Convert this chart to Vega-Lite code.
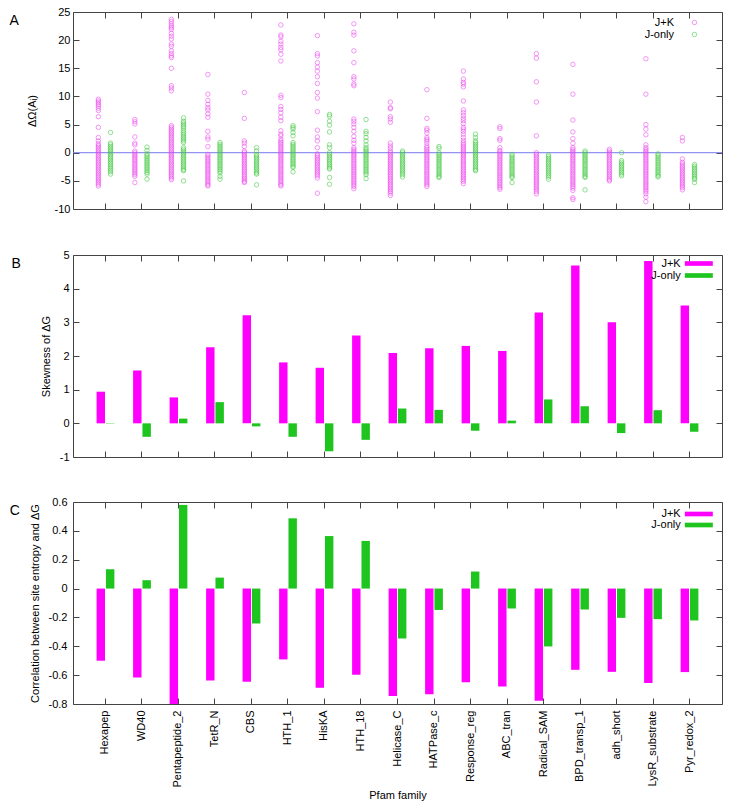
{
"$schema": "https://vega.github.io/schema/vega-lite/v6.json",
"padding": {"left": 8, "top": 5, "right": 5, "bottom": 2},
"config": {
 "font": "Liberation Sans",
 "view": {"stroke": "#444", "strokeWidth": 1},
 "axis": {"grid": false, "domain": false, "tickSize": -6, "tickColor": "#444", "tickWidth": 1, "labelFontSize": 11, "labelColor": "#000", "titleFontSize": 11, "titleFontWeight": "normal", "titleColor": "#000"},
 "legend": {"labelFontSize": 11, "labelColor": "#000", "padding": 0, "rowPadding": 0, "labelAlign": "right"},
 "title": {"fontSize": 14, "fontWeight": "normal", "orient": "left", "angle": 0, "anchor": "end", "align": "right", "baseline": "top", "frame": "group", "dy": 2, "color": "#000"}
},
"datasets": {
"bars": [
{"f":"Hexapep","s":"J+K","skew":0.94,"corr":-0.50},{"f":"Hexapep","s":"J-only","skew":0.01,"corr":0.134},
{"f":"WD40","s":"J+K","skew":1.57,"corr":-0.616},{"f":"WD40","s":"J-only","skew":-0.40,"corr":0.058},
{"f":"Pentapeptide_2","s":"J+K","skew":0.77,"corr":-0.80},{"f":"Pentapeptide_2","s":"J-only","skew":0.14,"corr":0.58},
{"f":"TetR_N","s":"J+K","skew":2.26,"corr":-0.637},{"f":"TetR_N","s":"J-only","skew":0.63,"corr":0.076},
{"f":"CBS","s":"J+K","skew":3.21,"corr":-0.646},{"f":"CBS","s":"J-only","skew":-0.09,"corr":-0.242},
{"f":"HTH_1","s":"J+K","skew":1.81,"corr":-0.491},{"f":"HTH_1","s":"J-only","skew":-0.40,"corr":0.487},
{"f":"HisKA","s":"J+K","skew":1.65,"corr":-0.687},{"f":"HisKA","s":"J-only","skew":-0.83,"corr":0.364},
{"f":"HTH_18","s":"J+K","skew":2.61,"corr":-0.597},{"f":"HTH_18","s":"J-only","skew":-0.49,"corr":0.33},
{"f":"Helicase_C","s":"J+K","skew":2.09,"corr":-0.745},{"f":"Helicase_C","s":"J-only","skew":0.44,"corr":-0.346},
{"f":"HATPase_c","s":"J+K","skew":2.23,"corr":-0.733},{"f":"HATPase_c","s":"J-only","skew":0.40,"corr":-0.148},
{"f":"Response_reg","s":"J+K","skew":2.30,"corr":-0.65},{"f":"Response_reg","s":"J-only","skew":-0.22,"corr":0.118},
{"f":"ABC_tran","s":"J+K","skew":2.15,"corr":-0.678},{"f":"ABC_tran","s":"J-only","skew":0.08,"corr":-0.138},
{"f":"Radical_SAM","s":"J+K","skew":3.29,"corr":-0.777},{"f":"Radical_SAM","s":"J-only","skew":0.71,"corr":-0.401},
{"f":"BPD_transp_1","s":"J+K","skew":4.69,"corr":-0.563},{"f":"BPD_transp_1","s":"J-only","skew":0.51,"corr":-0.145},
{"f":"adh_short","s":"J+K","skew":3.00,"corr":-0.577},{"f":"adh_short","s":"J-only","skew":-0.29,"corr":-0.203},
{"f":"LysR_substrate","s":"J+K","skew":4.82,"corr":-0.655},{"f":"LysR_substrate","s":"J-only","skew":0.39,"corr":-0.212},
{"f":"Pyr_redox_2","s":"J+K","skew":3.50,"corr":-0.579},{"f":"Pyr_redox_2","s":"J-only","skew":-0.25,"corr":-0.221}
],
"pts": [
{"f":"Hexapep","s":"J+K","v":9.5},{"f":"Hexapep","s":"J+K","v":9.2},{"f":"Hexapep","s":"J+K","v":8.9},{"f":"Hexapep","s":"J+K","v":8.6},{"f":"Hexapep","s":"J+K","v":8.3},{"f":"Hexapep","s":"J+K","v":7.9},{"f":"Hexapep","s":"J+K","v":7.5},{"f":"Hexapep","s":"J+K","v":6.4},{"f":"Hexapep","s":"J+K","v":4.5},{"f":"Hexapep","s":"J+K","v":2.7},{"f":"Hexapep","s":"J+K","v":2.1},{"f":"Hexapep","s":"J+K","v":1.6},{"f":"Hexapep","s":"J+K","v":1.3},{"f":"Hexapep","s":"J+K","v":1.0},{"f":"Hexapep","s":"J+K","v":0.7},{"f":"Hexapep","s":"J+K","v":0.4},{"f":"Hexapep","s":"J+K","v":0.1},{"f":"Hexapep","s":"J+K","v":-0.2},{"f":"Hexapep","s":"J+K","v":-0.5},{"f":"Hexapep","s":"J+K","v":-0.8},{"f":"Hexapep","s":"J+K","v":-1.1},{"f":"Hexapep","s":"J+K","v":-1.4},{"f":"Hexapep","s":"J+K","v":-1.7},{"f":"Hexapep","s":"J+K","v":-2.0},{"f":"Hexapep","s":"J+K","v":-2.3},{"f":"Hexapep","s":"J+K","v":-2.6},{"f":"Hexapep","s":"J+K","v":-2.9},{"f":"Hexapep","s":"J+K","v":-3.2},{"f":"Hexapep","s":"J+K","v":-3.5},{"f":"Hexapep","s":"J+K","v":-3.8},{"f":"Hexapep","s":"J+K","v":-4.1},{"f":"Hexapep","s":"J+K","v":-4.4},{"f":"Hexapep","s":"J+K","v":-4.7},{"f":"Hexapep","s":"J+K","v":-5.0},{"f":"Hexapep","s":"J+K","v":-5.3},{"f":"Hexapep","s":"J+K","v":-5.6},{"f":"Hexapep","s":"J+K","v":-5.9},
{"f":"Hexapep","s":"J-only","v":3.6},{"f":"Hexapep","s":"J-only","v":1.7},{"f":"Hexapep","s":"J-only","v":1.4},{"f":"Hexapep","s":"J-only","v":1.1},{"f":"Hexapep","s":"J-only","v":0.8},{"f":"Hexapep","s":"J-only","v":0.5},{"f":"Hexapep","s":"J-only","v":0.2},{"f":"Hexapep","s":"J-only","v":-0.1},{"f":"Hexapep","s":"J-only","v":-0.4},{"f":"Hexapep","s":"J-only","v":-0.7},{"f":"Hexapep","s":"J-only","v":-1.0},{"f":"Hexapep","s":"J-only","v":-1.3},{"f":"Hexapep","s":"J-only","v":-1.6},{"f":"Hexapep","s":"J-only","v":-1.9},{"f":"Hexapep","s":"J-only","v":-2.2},{"f":"Hexapep","s":"J-only","v":-2.5},{"f":"Hexapep","s":"J-only","v":-2.8},{"f":"Hexapep","s":"J-only","v":-3.1},{"f":"Hexapep","s":"J-only","v":-3.4},{"f":"Hexapep","s":"J-only","v":-3.8},
{"f":"WD40","s":"J+K","v":5.9},{"f":"WD40","s":"J+K","v":5.5},{"f":"WD40","s":"J+K","v":5.1},{"f":"WD40","s":"J+K","v":2.8},{"f":"WD40","s":"J+K","v":1.7},{"f":"WD40","s":"J+K","v":1.4},{"f":"WD40","s":"J+K","v":0.3},{"f":"WD40","s":"J+K","v":0.0},{"f":"WD40","s":"J+K","v":-0.3},{"f":"WD40","s":"J+K","v":-0.6},{"f":"WD40","s":"J+K","v":-0.9},{"f":"WD40","s":"J+K","v":-1.2},{"f":"WD40","s":"J+K","v":-1.5},{"f":"WD40","s":"J+K","v":-1.8},{"f":"WD40","s":"J+K","v":-2.1},{"f":"WD40","s":"J+K","v":-2.4},{"f":"WD40","s":"J+K","v":-2.7},{"f":"WD40","s":"J+K","v":-3.0},{"f":"WD40","s":"J+K","v":-3.3},{"f":"WD40","s":"J+K","v":-3.6},{"f":"WD40","s":"J+K","v":-3.9},{"f":"WD40","s":"J+K","v":-4.2},{"f":"WD40","s":"J+K","v":-5.3},
{"f":"WD40","s":"J-only","v":1.0},{"f":"WD40","s":"J-only","v":0.4},{"f":"WD40","s":"J-only","v":-0.2},{"f":"WD40","s":"J-only","v":-0.5},{"f":"WD40","s":"J-only","v":-0.8},{"f":"WD40","s":"J-only","v":-1.1},{"f":"WD40","s":"J-only","v":-1.4},{"f":"WD40","s":"J-only","v":-1.7},{"f":"WD40","s":"J-only","v":-2.0},{"f":"WD40","s":"J-only","v":-2.3},{"f":"WD40","s":"J-only","v":-2.6},{"f":"WD40","s":"J-only","v":-2.9},{"f":"WD40","s":"J-only","v":-3.2},{"f":"WD40","s":"J-only","v":-3.5},{"f":"WD40","s":"J-only","v":-3.8},{"f":"WD40","s":"J-only","v":-4.7},
{"f":"Pentapeptide_2","s":"J+K","v":23.7},{"f":"Pentapeptide_2","s":"J+K","v":23.3},{"f":"Pentapeptide_2","s":"J+K","v":22.9},{"f":"Pentapeptide_2","s":"J+K","v":22.5},{"f":"Pentapeptide_2","s":"J+K","v":22.2},{"f":"Pentapeptide_2","s":"J+K","v":21.9},{"f":"Pentapeptide_2","s":"J+K","v":21.2},{"f":"Pentapeptide_2","s":"J+K","v":20.7},{"f":"Pentapeptide_2","s":"J+K","v":20.2},{"f":"Pentapeptide_2","s":"J+K","v":19.3},{"f":"Pentapeptide_2","s":"J+K","v":18.9},{"f":"Pentapeptide_2","s":"J+K","v":18.1},{"f":"Pentapeptide_2","s":"J+K","v":17.6},{"f":"Pentapeptide_2","s":"J+K","v":17.2},{"f":"Pentapeptide_2","s":"J+K","v":16.9},{"f":"Pentapeptide_2","s":"J+K","v":15.0},{"f":"Pentapeptide_2","s":"J+K","v":11.9},{"f":"Pentapeptide_2","s":"J+K","v":11.5},{"f":"Pentapeptide_2","s":"J+K","v":11.0},{"f":"Pentapeptide_2","s":"J+K","v":4.8},{"f":"Pentapeptide_2","s":"J+K","v":4.5},{"f":"Pentapeptide_2","s":"J+K","v":4.2},{"f":"Pentapeptide_2","s":"J+K","v":3.9},{"f":"Pentapeptide_2","s":"J+K","v":3.6},{"f":"Pentapeptide_2","s":"J+K","v":3.3},{"f":"Pentapeptide_2","s":"J+K","v":3.0},{"f":"Pentapeptide_2","s":"J+K","v":2.7},{"f":"Pentapeptide_2","s":"J+K","v":2.4},{"f":"Pentapeptide_2","s":"J+K","v":2.1},{"f":"Pentapeptide_2","s":"J+K","v":1.8},{"f":"Pentapeptide_2","s":"J+K","v":1.5},{"f":"Pentapeptide_2","s":"J+K","v":1.2},{"f":"Pentapeptide_2","s":"J+K","v":0.9},{"f":"Pentapeptide_2","s":"J+K","v":0.6},{"f":"Pentapeptide_2","s":"J+K","v":0.3},{"f":"Pentapeptide_2","s":"J+K","v":0.0},{"f":"Pentapeptide_2","s":"J+K","v":-0.3},{"f":"Pentapeptide_2","s":"J+K","v":-0.6},{"f":"Pentapeptide_2","s":"J+K","v":-0.9},{"f":"Pentapeptide_2","s":"J+K","v":-1.2},{"f":"Pentapeptide_2","s":"J+K","v":-1.5},{"f":"Pentapeptide_2","s":"J+K","v":-1.8},{"f":"Pentapeptide_2","s":"J+K","v":-2.1},{"f":"Pentapeptide_2","s":"J+K","v":-2.4},{"f":"Pentapeptide_2","s":"J+K","v":-2.7},{"f":"Pentapeptide_2","s":"J+K","v":-3.0},{"f":"Pentapeptide_2","s":"J+K","v":-3.3},{"f":"Pentapeptide_2","s":"J+K","v":-3.6},{"f":"Pentapeptide_2","s":"J+K","v":-3.9},{"f":"Pentapeptide_2","s":"J+K","v":-4.2},{"f":"Pentapeptide_2","s":"J+K","v":-4.5},{"f":"Pentapeptide_2","s":"J+K","v":-4.8},
{"f":"Pentapeptide_2","s":"J-only","v":6.2},{"f":"Pentapeptide_2","s":"J-only","v":5.6},{"f":"Pentapeptide_2","s":"J-only","v":5.3},{"f":"Pentapeptide_2","s":"J-only","v":5.0},{"f":"Pentapeptide_2","s":"J-only","v":4.7},{"f":"Pentapeptide_2","s":"J-only","v":4.4},{"f":"Pentapeptide_2","s":"J-only","v":4.0},{"f":"Pentapeptide_2","s":"J-only","v":3.6},{"f":"Pentapeptide_2","s":"J-only","v":3.3},{"f":"Pentapeptide_2","s":"J-only","v":3.0},{"f":"Pentapeptide_2","s":"J-only","v":2.7},{"f":"Pentapeptide_2","s":"J-only","v":2.4},{"f":"Pentapeptide_2","s":"J-only","v":2.1},{"f":"Pentapeptide_2","s":"J-only","v":1.8},{"f":"Pentapeptide_2","s":"J-only","v":0.9},{"f":"Pentapeptide_2","s":"J-only","v":0.6},{"f":"Pentapeptide_2","s":"J-only","v":0.3},{"f":"Pentapeptide_2","s":"J-only","v":0.0},{"f":"Pentapeptide_2","s":"J-only","v":-0.3},{"f":"Pentapeptide_2","s":"J-only","v":-0.6},{"f":"Pentapeptide_2","s":"J-only","v":-0.9},{"f":"Pentapeptide_2","s":"J-only","v":-1.2},{"f":"Pentapeptide_2","s":"J-only","v":-1.5},{"f":"Pentapeptide_2","s":"J-only","v":-1.8},{"f":"Pentapeptide_2","s":"J-only","v":-2.1},{"f":"Pentapeptide_2","s":"J-only","v":-2.4},{"f":"Pentapeptide_2","s":"J-only","v":-2.7},{"f":"Pentapeptide_2","s":"J-only","v":-3.0},{"f":"Pentapeptide_2","s":"J-only","v":-3.2},{"f":"Pentapeptide_2","s":"J-only","v":-5.0},
{"f":"TetR_N","s":"J+K","v":13.9},{"f":"TetR_N","s":"J+K","v":10.4},{"f":"TetR_N","s":"J+K","v":9.3},{"f":"TetR_N","s":"J+K","v":8.6},{"f":"TetR_N","s":"J+K","v":8.0},{"f":"TetR_N","s":"J+K","v":7.6},{"f":"TetR_N","s":"J+K","v":6.9},{"f":"TetR_N","s":"J+K","v":6.3},{"f":"TetR_N","s":"J+K","v":3.8},{"f":"TetR_N","s":"J+K","v":2.8},{"f":"TetR_N","s":"J+K","v":2.4},{"f":"TetR_N","s":"J+K","v":1.1},{"f":"TetR_N","s":"J+K","v":-0.3},{"f":"TetR_N","s":"J+K","v":-0.6},{"f":"TetR_N","s":"J+K","v":-0.9},{"f":"TetR_N","s":"J+K","v":-1.2},{"f":"TetR_N","s":"J+K","v":-1.5},{"f":"TetR_N","s":"J+K","v":-1.8},{"f":"TetR_N","s":"J+K","v":-2.1},{"f":"TetR_N","s":"J+K","v":-2.4},{"f":"TetR_N","s":"J+K","v":-2.7},{"f":"TetR_N","s":"J+K","v":-3.0},{"f":"TetR_N","s":"J+K","v":-3.3},{"f":"TetR_N","s":"J+K","v":-3.6},{"f":"TetR_N","s":"J+K","v":-3.9},{"f":"TetR_N","s":"J+K","v":-4.2},{"f":"TetR_N","s":"J+K","v":-4.5},{"f":"TetR_N","s":"J+K","v":-4.8},{"f":"TetR_N","s":"J+K","v":-5.1},{"f":"TetR_N","s":"J+K","v":-5.4},{"f":"TetR_N","s":"J+K","v":-5.7},{"f":"TetR_N","s":"J+K","v":-5.9},
{"f":"TetR_N","s":"J-only","v":1.8},{"f":"TetR_N","s":"J-only","v":1.5},{"f":"TetR_N","s":"J-only","v":1.2},{"f":"TetR_N","s":"J-only","v":0.9},{"f":"TetR_N","s":"J-only","v":0.6},{"f":"TetR_N","s":"J-only","v":0.3},{"f":"TetR_N","s":"J-only","v":0.0},{"f":"TetR_N","s":"J-only","v":-0.3},{"f":"TetR_N","s":"J-only","v":-0.6},{"f":"TetR_N","s":"J-only","v":-0.9},{"f":"TetR_N","s":"J-only","v":-1.2},{"f":"TetR_N","s":"J-only","v":-1.5},{"f":"TetR_N","s":"J-only","v":-1.8},{"f":"TetR_N","s":"J-only","v":-2.1},{"f":"TetR_N","s":"J-only","v":-2.4},{"f":"TetR_N","s":"J-only","v":-2.7},{"f":"TetR_N","s":"J-only","v":-3.0},{"f":"TetR_N","s":"J-only","v":-3.3},{"f":"TetR_N","s":"J-only","v":-3.6},{"f":"TetR_N","s":"J-only","v":-4.2},{"f":"TetR_N","s":"J-only","v":-4.7},
{"f":"CBS","s":"J+K","v":10.7},{"f":"CBS","s":"J+K","v":6.1},{"f":"CBS","s":"J+K","v":2.1},{"f":"CBS","s":"J+K","v":1.7},{"f":"CBS","s":"J+K","v":1.1},{"f":"CBS","s":"J+K","v":0.3},{"f":"CBS","s":"J+K","v":0.0},{"f":"CBS","s":"J+K","v":-0.3},{"f":"CBS","s":"J+K","v":-0.6},{"f":"CBS","s":"J+K","v":-0.9},{"f":"CBS","s":"J+K","v":-1.2},{"f":"CBS","s":"J+K","v":-1.5},{"f":"CBS","s":"J+K","v":-1.8},{"f":"CBS","s":"J+K","v":-2.1},{"f":"CBS","s":"J+K","v":-2.4},{"f":"CBS","s":"J+K","v":-2.7},{"f":"CBS","s":"J+K","v":-3.0},{"f":"CBS","s":"J+K","v":-3.3},{"f":"CBS","s":"J+K","v":-3.6},{"f":"CBS","s":"J+K","v":-3.9},{"f":"CBS","s":"J+K","v":-4.2},{"f":"CBS","s":"J+K","v":-4.5},{"f":"CBS","s":"J+K","v":-4.8},{"f":"CBS","s":"J+K","v":-5.1},{"f":"CBS","s":"J+K","v":-5.3},
{"f":"CBS","s":"J-only","v":0.9},{"f":"CBS","s":"J-only","v":0.3},{"f":"CBS","s":"J-only","v":-0.3},{"f":"CBS","s":"J-only","v":-0.6},{"f":"CBS","s":"J-only","v":-0.9},{"f":"CBS","s":"J-only","v":-1.2},{"f":"CBS","s":"J-only","v":-1.5},{"f":"CBS","s":"J-only","v":-1.8},{"f":"CBS","s":"J-only","v":-2.1},{"f":"CBS","s":"J-only","v":-2.4},{"f":"CBS","s":"J-only","v":-2.7},{"f":"CBS","s":"J-only","v":-3.0},{"f":"CBS","s":"J-only","v":-3.3},{"f":"CBS","s":"J-only","v":-3.6},{"f":"CBS","s":"J-only","v":-3.8},{"f":"CBS","s":"J-only","v":-5.7},
{"f":"HTH_1","s":"J+K","v":22.7},{"f":"HTH_1","s":"J+K","v":20.9},{"f":"HTH_1","s":"J+K","v":20.6},{"f":"HTH_1","s":"J+K","v":19.8},{"f":"HTH_1","s":"J+K","v":19.3},{"f":"HTH_1","s":"J+K","v":18.7},{"f":"HTH_1","s":"J+K","v":18.3},{"f":"HTH_1","s":"J+K","v":17.5},{"f":"HTH_1","s":"J+K","v":16.3},{"f":"HTH_1","s":"J+K","v":10.2},{"f":"HTH_1","s":"J+K","v":9.8},{"f":"HTH_1","s":"J+K","v":8.2},{"f":"HTH_1","s":"J+K","v":7.7},{"f":"HTH_1","s":"J+K","v":7.1},{"f":"HTH_1","s":"J+K","v":6.3},{"f":"HTH_1","s":"J+K","v":5.7},{"f":"HTH_1","s":"J+K","v":3.9},{"f":"HTH_1","s":"J+K","v":3.3},{"f":"HTH_1","s":"J+K","v":3.0},{"f":"HTH_1","s":"J+K","v":2.4},{"f":"HTH_1","s":"J+K","v":2.1},{"f":"HTH_1","s":"J+K","v":1.8},{"f":"HTH_1","s":"J+K","v":1.5},{"f":"HTH_1","s":"J+K","v":1.2},{"f":"HTH_1","s":"J+K","v":0.9},{"f":"HTH_1","s":"J+K","v":0.6},{"f":"HTH_1","s":"J+K","v":0.3},{"f":"HTH_1","s":"J+K","v":0.0},{"f":"HTH_1","s":"J+K","v":-0.3},{"f":"HTH_1","s":"J+K","v":-0.6},{"f":"HTH_1","s":"J+K","v":-0.9},{"f":"HTH_1","s":"J+K","v":-1.2},{"f":"HTH_1","s":"J+K","v":-1.5},{"f":"HTH_1","s":"J+K","v":-1.8},{"f":"HTH_1","s":"J+K","v":-2.1},{"f":"HTH_1","s":"J+K","v":-2.4},{"f":"HTH_1","s":"J+K","v":-2.7},{"f":"HTH_1","s":"J+K","v":-3.0},{"f":"HTH_1","s":"J+K","v":-3.3},{"f":"HTH_1","s":"J+K","v":-3.6},{"f":"HTH_1","s":"J+K","v":-3.9},{"f":"HTH_1","s":"J+K","v":-4.2},{"f":"HTH_1","s":"J+K","v":-4.5},{"f":"HTH_1","s":"J+K","v":-4.8},{"f":"HTH_1","s":"J+K","v":-5.1},{"f":"HTH_1","s":"J+K","v":-5.4},{"f":"HTH_1","s":"J+K","v":-5.7},{"f":"HTH_1","s":"J+K","v":-5.9},
{"f":"HTH_1","s":"J-only","v":4.8},{"f":"HTH_1","s":"J-only","v":4.5},{"f":"HTH_1","s":"J-only","v":4.2},{"f":"HTH_1","s":"J-only","v":3.6},{"f":"HTH_1","s":"J-only","v":3.0},{"f":"HTH_1","s":"J-only","v":1.8},{"f":"HTH_1","s":"J-only","v":1.5},{"f":"HTH_1","s":"J-only","v":1.2},{"f":"HTH_1","s":"J-only","v":0.9},{"f":"HTH_1","s":"J-only","v":0.6},{"f":"HTH_1","s":"J-only","v":0.3},{"f":"HTH_1","s":"J-only","v":0.0},{"f":"HTH_1","s":"J-only","v":-0.3},{"f":"HTH_1","s":"J-only","v":-0.6},{"f":"HTH_1","s":"J-only","v":-0.9},{"f":"HTH_1","s":"J-only","v":-1.2},{"f":"HTH_1","s":"J-only","v":-1.5},{"f":"HTH_1","s":"J-only","v":-1.8},{"f":"HTH_1","s":"J-only","v":-2.1},{"f":"HTH_1","s":"J-only","v":-2.4},{"f":"HTH_1","s":"J-only","v":-2.6},{"f":"HTH_1","s":"J-only","v":-3.4},
{"f":"HisKA","s":"J+K","v":20.8},{"f":"HisKA","s":"J+K","v":17.6},{"f":"HisKA","s":"J+K","v":17.2},{"f":"HisKA","s":"J+K","v":16.0},{"f":"HisKA","s":"J+K","v":15.2},{"f":"HisKA","s":"J+K","v":14.5},{"f":"HisKA","s":"J+K","v":13.5},{"f":"HisKA","s":"J+K","v":12.3},{"f":"HisKA","s":"J+K","v":10.7},{"f":"HisKA","s":"J+K","v":9.7},{"f":"HisKA","s":"J+K","v":7.3},{"f":"HisKA","s":"J+K","v":4.0},{"f":"HisKA","s":"J+K","v":2.8},{"f":"HisKA","s":"J+K","v":2.1},{"f":"HisKA","s":"J+K","v":0.9},{"f":"HisKA","s":"J+K","v":-0.2},{"f":"HisKA","s":"J+K","v":-0.5},{"f":"HisKA","s":"J+K","v":-0.8},{"f":"HisKA","s":"J+K","v":-1.1},{"f":"HisKA","s":"J+K","v":-1.4},{"f":"HisKA","s":"J+K","v":-1.7},{"f":"HisKA","s":"J+K","v":-2.0},{"f":"HisKA","s":"J+K","v":-2.3},{"f":"HisKA","s":"J+K","v":-2.6},{"f":"HisKA","s":"J+K","v":-2.9},{"f":"HisKA","s":"J+K","v":-3.2},{"f":"HisKA","s":"J+K","v":-3.5},{"f":"HisKA","s":"J+K","v":-3.8},{"f":"HisKA","s":"J+K","v":-4.1},{"f":"HisKA","s":"J+K","v":-4.5},{"f":"HisKA","s":"J+K","v":-7.2},
{"f":"HisKA","s":"J-only","v":6.8},{"f":"HisKA","s":"J-only","v":6.5},{"f":"HisKA","s":"J-only","v":5.6},{"f":"HisKA","s":"J-only","v":4.9},{"f":"HisKA","s":"J-only","v":3.7},{"f":"HisKA","s":"J-only","v":1.4},{"f":"HisKA","s":"J-only","v":0.9},{"f":"HisKA","s":"J-only","v":0.0},{"f":"HisKA","s":"J-only","v":-0.3},{"f":"HisKA","s":"J-only","v":-0.6},{"f":"HisKA","s":"J-only","v":-0.9},{"f":"HisKA","s":"J-only","v":-1.2},{"f":"HisKA","s":"J-only","v":-1.5},{"f":"HisKA","s":"J-only","v":-1.8},{"f":"HisKA","s":"J-only","v":-2.1},{"f":"HisKA","s":"J-only","v":-2.4},{"f":"HisKA","s":"J-only","v":-2.7},{"f":"HisKA","s":"J-only","v":-2.9},{"f":"HisKA","s":"J-only","v":-4.4},{"f":"HisKA","s":"J-only","v":-5.6},
{"f":"HTH_18","s":"J+K","v":22.9},{"f":"HTH_18","s":"J+K","v":21.4},{"f":"HTH_18","s":"J+K","v":20.9},{"f":"HTH_18","s":"J+K","v":18.1},{"f":"HTH_18","s":"J+K","v":16.0},{"f":"HTH_18","s":"J+K","v":13.5},{"f":"HTH_18","s":"J+K","v":13.1},{"f":"HTH_18","s":"J+K","v":12.2},{"f":"HTH_18","s":"J+K","v":11.9},{"f":"HTH_18","s":"J+K","v":6.0},{"f":"HTH_18","s":"J+K","v":5.6},{"f":"HTH_18","s":"J+K","v":5.1},{"f":"HTH_18","s":"J+K","v":4.5},{"f":"HTH_18","s":"J+K","v":3.8},{"f":"HTH_18","s":"J+K","v":2.9},{"f":"HTH_18","s":"J+K","v":2.2},{"f":"HTH_18","s":"J+K","v":1.7},{"f":"HTH_18","s":"J+K","v":0.9},{"f":"HTH_18","s":"J+K","v":0.6},{"f":"HTH_18","s":"J+K","v":0.3},{"f":"HTH_18","s":"J+K","v":0.0},{"f":"HTH_18","s":"J+K","v":-0.3},{"f":"HTH_18","s":"J+K","v":-0.6},{"f":"HTH_18","s":"J+K","v":-0.9},{"f":"HTH_18","s":"J+K","v":-1.2},{"f":"HTH_18","s":"J+K","v":-1.5},{"f":"HTH_18","s":"J+K","v":-1.8},{"f":"HTH_18","s":"J+K","v":-2.1},{"f":"HTH_18","s":"J+K","v":-2.4},{"f":"HTH_18","s":"J+K","v":-2.7},{"f":"HTH_18","s":"J+K","v":-3.0},{"f":"HTH_18","s":"J+K","v":-3.3},{"f":"HTH_18","s":"J+K","v":-3.6},{"f":"HTH_18","s":"J+K","v":-3.9},{"f":"HTH_18","s":"J+K","v":-4.2},{"f":"HTH_18","s":"J+K","v":-4.5},{"f":"HTH_18","s":"J+K","v":-4.8},{"f":"HTH_18","s":"J+K","v":-5.1},{"f":"HTH_18","s":"J+K","v":-5.4},{"f":"HTH_18","s":"J+K","v":-5.7},{"f":"HTH_18","s":"J+K","v":-6.0},{"f":"HTH_18","s":"J+K","v":-6.4},
{"f":"HTH_18","s":"J-only","v":5.9},{"f":"HTH_18","s":"J-only","v":3.8},{"f":"HTH_18","s":"J-only","v":3.4},{"f":"HTH_18","s":"J-only","v":2.7},{"f":"HTH_18","s":"J-only","v":2.1},{"f":"HTH_18","s":"J-only","v":1.4},{"f":"HTH_18","s":"J-only","v":0.9},{"f":"HTH_18","s":"J-only","v":0.6},{"f":"HTH_18","s":"J-only","v":0.3},{"f":"HTH_18","s":"J-only","v":0.0},{"f":"HTH_18","s":"J-only","v":-0.3},{"f":"HTH_18","s":"J-only","v":-0.6},{"f":"HTH_18","s":"J-only","v":-0.9},{"f":"HTH_18","s":"J-only","v":-1.2},{"f":"HTH_18","s":"J-only","v":-1.5},{"f":"HTH_18","s":"J-only","v":-1.8},{"f":"HTH_18","s":"J-only","v":-2.1},{"f":"HTH_18","s":"J-only","v":-2.4},{"f":"HTH_18","s":"J-only","v":-2.7},{"f":"HTH_18","s":"J-only","v":-3.0},{"f":"HTH_18","s":"J-only","v":-3.3},{"f":"HTH_18","s":"J-only","v":-3.6},{"f":"HTH_18","s":"J-only","v":-3.9},{"f":"HTH_18","s":"J-only","v":-4.6},
{"f":"Helicase_C","s":"J+K","v":9.0},{"f":"Helicase_C","s":"J+K","v":8.0},{"f":"Helicase_C","s":"J+K","v":7.8},{"f":"Helicase_C","s":"J+K","v":6.4},{"f":"Helicase_C","s":"J+K","v":6.0},{"f":"Helicase_C","s":"J+K","v":5.4},{"f":"Helicase_C","s":"J+K","v":1.7},{"f":"Helicase_C","s":"J+K","v":1.2},{"f":"Helicase_C","s":"J+K","v":0.8},{"f":"Helicase_C","s":"J+K","v":0.3},{"f":"Helicase_C","s":"J+K","v":0.0},{"f":"Helicase_C","s":"J+K","v":-0.3},{"f":"Helicase_C","s":"J+K","v":-0.6},{"f":"Helicase_C","s":"J+K","v":-0.9},{"f":"Helicase_C","s":"J+K","v":-1.2},{"f":"Helicase_C","s":"J+K","v":-1.5},{"f":"Helicase_C","s":"J+K","v":-1.8},{"f":"Helicase_C","s":"J+K","v":-2.1},{"f":"Helicase_C","s":"J+K","v":-2.4},{"f":"Helicase_C","s":"J+K","v":-2.7},{"f":"Helicase_C","s":"J+K","v":-3.0},{"f":"Helicase_C","s":"J+K","v":-3.3},{"f":"Helicase_C","s":"J+K","v":-3.6},{"f":"Helicase_C","s":"J+K","v":-3.9},{"f":"Helicase_C","s":"J+K","v":-4.2},{"f":"Helicase_C","s":"J+K","v":-4.5},{"f":"Helicase_C","s":"J+K","v":-4.8},{"f":"Helicase_C","s":"J+K","v":-5.1},{"f":"Helicase_C","s":"J+K","v":-5.4},{"f":"Helicase_C","s":"J+K","v":-5.7},{"f":"Helicase_C","s":"J+K","v":-6.0},{"f":"Helicase_C","s":"J+K","v":-6.3},{"f":"Helicase_C","s":"J+K","v":-6.6},{"f":"Helicase_C","s":"J+K","v":-6.9},{"f":"Helicase_C","s":"J+K","v":-7.2},{"f":"Helicase_C","s":"J+K","v":-7.6},
{"f":"Helicase_C","s":"J-only","v":0.3},{"f":"Helicase_C","s":"J-only","v":0.0},{"f":"Helicase_C","s":"J-only","v":-0.3},{"f":"Helicase_C","s":"J-only","v":-0.6},{"f":"Helicase_C","s":"J-only","v":-0.9},{"f":"Helicase_C","s":"J-only","v":-1.2},{"f":"Helicase_C","s":"J-only","v":-1.5},{"f":"Helicase_C","s":"J-only","v":-1.8},{"f":"Helicase_C","s":"J-only","v":-2.1},{"f":"Helicase_C","s":"J-only","v":-2.4},{"f":"Helicase_C","s":"J-only","v":-2.7},{"f":"Helicase_C","s":"J-only","v":-3.0},{"f":"Helicase_C","s":"J-only","v":-3.3},{"f":"Helicase_C","s":"J-only","v":-3.6},{"f":"Helicase_C","s":"J-only","v":-3.9},{"f":"Helicase_C","s":"J-only","v":-4.3},
{"f":"HATPase_c","s":"J+K","v":11.2},{"f":"HATPase_c","s":"J+K","v":6.1},{"f":"HATPase_c","s":"J+K","v":4.3},{"f":"HATPase_c","s":"J+K","v":4.0},{"f":"HATPase_c","s":"J+K","v":3.5},{"f":"HATPase_c","s":"J+K","v":2.7},{"f":"HATPase_c","s":"J+K","v":2.4},{"f":"HATPase_c","s":"J+K","v":2.1},{"f":"HATPase_c","s":"J+K","v":1.7},{"f":"HATPase_c","s":"J+K","v":1.2},{"f":"HATPase_c","s":"J+K","v":0.9},{"f":"HATPase_c","s":"J+K","v":0.6},{"f":"HATPase_c","s":"J+K","v":0.3},{"f":"HATPase_c","s":"J+K","v":0.0},{"f":"HATPase_c","s":"J+K","v":-0.3},{"f":"HATPase_c","s":"J+K","v":-0.6},{"f":"HATPase_c","s":"J+K","v":-0.9},{"f":"HATPase_c","s":"J+K","v":-1.2},{"f":"HATPase_c","s":"J+K","v":-1.5},{"f":"HATPase_c","s":"J+K","v":-1.8},{"f":"HATPase_c","s":"J+K","v":-2.1},{"f":"HATPase_c","s":"J+K","v":-2.4},{"f":"HATPase_c","s":"J+K","v":-2.7},{"f":"HATPase_c","s":"J+K","v":-3.0},{"f":"HATPase_c","s":"J+K","v":-3.3},{"f":"HATPase_c","s":"J+K","v":-3.6},{"f":"HATPase_c","s":"J+K","v":-3.9},{"f":"HATPase_c","s":"J+K","v":-4.2},{"f":"HATPase_c","s":"J+K","v":-4.5},{"f":"HATPase_c","s":"J+K","v":-4.8},{"f":"HATPase_c","s":"J+K","v":-5.1},{"f":"HATPase_c","s":"J+K","v":-5.4},{"f":"HATPase_c","s":"J+K","v":-5.7},{"f":"HATPase_c","s":"J+K","v":-6.0},
{"f":"HATPase_c","s":"J-only","v":1.1},{"f":"HATPase_c","s":"J-only","v":0.8},{"f":"HATPase_c","s":"J-only","v":0.0},{"f":"HATPase_c","s":"J-only","v":-0.3},{"f":"HATPase_c","s":"J-only","v":-0.6},{"f":"HATPase_c","s":"J-only","v":-0.9},{"f":"HATPase_c","s":"J-only","v":-1.2},{"f":"HATPase_c","s":"J-only","v":-1.5},{"f":"HATPase_c","s":"J-only","v":-1.8},{"f":"HATPase_c","s":"J-only","v":-2.1},{"f":"HATPase_c","s":"J-only","v":-2.4},{"f":"HATPase_c","s":"J-only","v":-2.7},{"f":"HATPase_c","s":"J-only","v":-3.0},{"f":"HATPase_c","s":"J-only","v":-3.3},{"f":"HATPase_c","s":"J-only","v":-3.6},{"f":"HATPase_c","s":"J-only","v":-3.9},{"f":"HATPase_c","s":"J-only","v":-4.2},{"f":"HATPase_c","s":"J-only","v":-4.4},
{"f":"Response_reg","s":"J+K","v":14.5},{"f":"Response_reg","s":"J+K","v":13.1},{"f":"Response_reg","s":"J+K","v":12.5},{"f":"Response_reg","s":"J+K","v":12.2},{"f":"Response_reg","s":"J+K","v":11.7},{"f":"Response_reg","s":"J+K","v":9.2},{"f":"Response_reg","s":"J+K","v":7.6},{"f":"Response_reg","s":"J+K","v":7.1},{"f":"Response_reg","s":"J+K","v":6.6},{"f":"Response_reg","s":"J+K","v":6.1},{"f":"Response_reg","s":"J+K","v":5.7},{"f":"Response_reg","s":"J+K","v":5.2},{"f":"Response_reg","s":"J+K","v":4.5},{"f":"Response_reg","s":"J+K","v":4.2},{"f":"Response_reg","s":"J+K","v":3.8},{"f":"Response_reg","s":"J+K","v":3.3},{"f":"Response_reg","s":"J+K","v":2.7},{"f":"Response_reg","s":"J+K","v":2.2},{"f":"Response_reg","s":"J+K","v":1.8},{"f":"Response_reg","s":"J+K","v":1.5},{"f":"Response_reg","s":"J+K","v":1.2},{"f":"Response_reg","s":"J+K","v":0.9},{"f":"Response_reg","s":"J+K","v":0.6},{"f":"Response_reg","s":"J+K","v":0.3},{"f":"Response_reg","s":"J+K","v":0.0},{"f":"Response_reg","s":"J+K","v":-0.3},{"f":"Response_reg","s":"J+K","v":-0.6},{"f":"Response_reg","s":"J+K","v":-0.9},{"f":"Response_reg","s":"J+K","v":-1.2},{"f":"Response_reg","s":"J+K","v":-1.5},{"f":"Response_reg","s":"J+K","v":-1.8},{"f":"Response_reg","s":"J+K","v":-2.1},{"f":"Response_reg","s":"J+K","v":-2.4},{"f":"Response_reg","s":"J+K","v":-2.7},{"f":"Response_reg","s":"J+K","v":-3.0},{"f":"Response_reg","s":"J+K","v":-3.3},{"f":"Response_reg","s":"J+K","v":-3.6},{"f":"Response_reg","s":"J+K","v":-3.9},{"f":"Response_reg","s":"J+K","v":-4.2},{"f":"Response_reg","s":"J+K","v":-4.5},{"f":"Response_reg","s":"J+K","v":-4.8},{"f":"Response_reg","s":"J+K","v":-5.1},{"f":"Response_reg","s":"J+K","v":-5.5},
{"f":"Response_reg","s":"J-only","v":3.3},{"f":"Response_reg","s":"J-only","v":2.7},{"f":"Response_reg","s":"J-only","v":2.1},{"f":"Response_reg","s":"J-only","v":1.8},{"f":"Response_reg","s":"J-only","v":1.5},{"f":"Response_reg","s":"J-only","v":1.2},{"f":"Response_reg","s":"J-only","v":0.9},{"f":"Response_reg","s":"J-only","v":0.6},{"f":"Response_reg","s":"J-only","v":0.3},{"f":"Response_reg","s":"J-only","v":0.0},{"f":"Response_reg","s":"J-only","v":-0.3},{"f":"Response_reg","s":"J-only","v":-0.6},{"f":"Response_reg","s":"J-only","v":-0.9},{"f":"Response_reg","s":"J-only","v":-1.2},{"f":"Response_reg","s":"J-only","v":-1.5},{"f":"Response_reg","s":"J-only","v":-1.8},{"f":"Response_reg","s":"J-only","v":-2.1},{"f":"Response_reg","s":"J-only","v":-2.4},{"f":"Response_reg","s":"J-only","v":-2.7},{"f":"Response_reg","s":"J-only","v":-3.0},{"f":"Response_reg","s":"J-only","v":-3.2},
{"f":"ABC_tran","s":"J+K","v":4.6},{"f":"ABC_tran","s":"J+K","v":4.3},{"f":"ABC_tran","s":"J+K","v":2.5},{"f":"ABC_tran","s":"J+K","v":2.2},{"f":"ABC_tran","s":"J+K","v":0.9},{"f":"ABC_tran","s":"J+K","v":0.4},{"f":"ABC_tran","s":"J+K","v":0.1},{"f":"ABC_tran","s":"J+K","v":-0.2},{"f":"ABC_tran","s":"J+K","v":-0.5},{"f":"ABC_tran","s":"J+K","v":-0.8},{"f":"ABC_tran","s":"J+K","v":-1.1},{"f":"ABC_tran","s":"J+K","v":-1.4},{"f":"ABC_tran","s":"J+K","v":-1.7},{"f":"ABC_tran","s":"J+K","v":-2.0},{"f":"ABC_tran","s":"J+K","v":-2.3},{"f":"ABC_tran","s":"J+K","v":-2.6},{"f":"ABC_tran","s":"J+K","v":-2.9},{"f":"ABC_tran","s":"J+K","v":-3.2},{"f":"ABC_tran","s":"J+K","v":-3.5},{"f":"ABC_tran","s":"J+K","v":-3.8},{"f":"ABC_tran","s":"J+K","v":-4.1},{"f":"ABC_tran","s":"J+K","v":-4.4},{"f":"ABC_tran","s":"J+K","v":-4.7},{"f":"ABC_tran","s":"J+K","v":-5.0},{"f":"ABC_tran","s":"J+K","v":-5.3},{"f":"ABC_tran","s":"J+K","v":-5.6},{"f":"ABC_tran","s":"J+K","v":-5.9},{"f":"ABC_tran","s":"J+K","v":-6.2},{"f":"ABC_tran","s":"J+K","v":-6.5},
{"f":"ABC_tran","s":"J-only","v":-0.3},{"f":"ABC_tran","s":"J-only","v":-0.6},{"f":"ABC_tran","s":"J-only","v":-0.9},{"f":"ABC_tran","s":"J-only","v":-1.2},{"f":"ABC_tran","s":"J-only","v":-1.5},{"f":"ABC_tran","s":"J-only","v":-1.8},{"f":"ABC_tran","s":"J-only","v":-2.1},{"f":"ABC_tran","s":"J-only","v":-2.4},{"f":"ABC_tran","s":"J-only","v":-2.7},{"f":"ABC_tran","s":"J-only","v":-3.0},{"f":"ABC_tran","s":"J-only","v":-3.3},{"f":"ABC_tran","s":"J-only","v":-3.6},{"f":"ABC_tran","s":"J-only","v":-3.9},{"f":"ABC_tran","s":"J-only","v":-4.2},{"f":"ABC_tran","s":"J-only","v":-4.4},{"f":"ABC_tran","s":"J-only","v":-5.3},
{"f":"Radical_SAM","s":"J+K","v":17.6},{"f":"Radical_SAM","s":"J+K","v":16.8},{"f":"Radical_SAM","s":"J+K","v":12.6},{"f":"Radical_SAM","s":"J+K","v":9.0},{"f":"Radical_SAM","s":"J+K","v":3.0},{"f":"Radical_SAM","s":"J+K","v":0.0},{"f":"Radical_SAM","s":"J+K","v":-0.3},{"f":"Radical_SAM","s":"J+K","v":-0.6},{"f":"Radical_SAM","s":"J+K","v":-0.9},{"f":"Radical_SAM","s":"J+K","v":-1.2},{"f":"Radical_SAM","s":"J+K","v":-1.5},{"f":"Radical_SAM","s":"J+K","v":-1.8},{"f":"Radical_SAM","s":"J+K","v":-2.1},{"f":"Radical_SAM","s":"J+K","v":-2.4},{"f":"Radical_SAM","s":"J+K","v":-2.7},{"f":"Radical_SAM","s":"J+K","v":-3.0},{"f":"Radical_SAM","s":"J+K","v":-3.3},{"f":"Radical_SAM","s":"J+K","v":-3.6},{"f":"Radical_SAM","s":"J+K","v":-3.9},{"f":"Radical_SAM","s":"J+K","v":-4.2},{"f":"Radical_SAM","s":"J+K","v":-4.5},{"f":"Radical_SAM","s":"J+K","v":-4.8},{"f":"Radical_SAM","s":"J+K","v":-5.1},{"f":"Radical_SAM","s":"J+K","v":-5.4},{"f":"Radical_SAM","s":"J+K","v":-5.7},{"f":"Radical_SAM","s":"J+K","v":-6.0},{"f":"Radical_SAM","s":"J+K","v":-6.3},{"f":"Radical_SAM","s":"J+K","v":-6.6},{"f":"Radical_SAM","s":"J+K","v":-6.9},{"f":"Radical_SAM","s":"J+K","v":-7.3},
{"f":"Radical_SAM","s":"J-only","v":-0.4},{"f":"Radical_SAM","s":"J-only","v":-0.7},{"f":"Radical_SAM","s":"J-only","v":-1.0},{"f":"Radical_SAM","s":"J-only","v":-1.3},{"f":"Radical_SAM","s":"J-only","v":-1.6},{"f":"Radical_SAM","s":"J-only","v":-1.9},{"f":"Radical_SAM","s":"J-only","v":-2.2},{"f":"Radical_SAM","s":"J-only","v":-2.5},{"f":"Radical_SAM","s":"J-only","v":-2.8},{"f":"Radical_SAM","s":"J-only","v":-3.1},{"f":"Radical_SAM","s":"J-only","v":-3.4},{"f":"Radical_SAM","s":"J-only","v":-3.7},{"f":"Radical_SAM","s":"J-only","v":-4.0},{"f":"Radical_SAM","s":"J-only","v":-4.3},{"f":"Radical_SAM","s":"J-only","v":-4.7},
{"f":"BPD_transp_1","s":"J+K","v":15.7},{"f":"BPD_transp_1","s":"J+K","v":10.4},{"f":"BPD_transp_1","s":"J+K","v":5.8},{"f":"BPD_transp_1","s":"J+K","v":3.7},{"f":"BPD_transp_1","s":"J+K","v":2.5},{"f":"BPD_transp_1","s":"J+K","v":1.7},{"f":"BPD_transp_1","s":"J+K","v":0.9},{"f":"BPD_transp_1","s":"J+K","v":0.6},{"f":"BPD_transp_1","s":"J+K","v":0.3},{"f":"BPD_transp_1","s":"J+K","v":0.0},{"f":"BPD_transp_1","s":"J+K","v":-0.3},{"f":"BPD_transp_1","s":"J+K","v":-0.6},{"f":"BPD_transp_1","s":"J+K","v":-0.9},{"f":"BPD_transp_1","s":"J+K","v":-1.2},{"f":"BPD_transp_1","s":"J+K","v":-1.5},{"f":"BPD_transp_1","s":"J+K","v":-1.8},{"f":"BPD_transp_1","s":"J+K","v":-2.1},{"f":"BPD_transp_1","s":"J+K","v":-2.4},{"f":"BPD_transp_1","s":"J+K","v":-2.7},{"f":"BPD_transp_1","s":"J+K","v":-3.0},{"f":"BPD_transp_1","s":"J+K","v":-3.3},{"f":"BPD_transp_1","s":"J+K","v":-3.6},{"f":"BPD_transp_1","s":"J+K","v":-3.9},{"f":"BPD_transp_1","s":"J+K","v":-4.2},{"f":"BPD_transp_1","s":"J+K","v":-4.5},{"f":"BPD_transp_1","s":"J+K","v":-4.8},{"f":"BPD_transp_1","s":"J+K","v":-5.1},{"f":"BPD_transp_1","s":"J+K","v":-5.4},{"f":"BPD_transp_1","s":"J+K","v":-5.7},{"f":"BPD_transp_1","s":"J+K","v":-6.0},{"f":"BPD_transp_1","s":"J+K","v":-6.3},{"f":"BPD_transp_1","s":"J+K","v":-6.7},{"f":"BPD_transp_1","s":"J+K","v":-8.0},{"f":"BPD_transp_1","s":"J+K","v":-8.3},
{"f":"BPD_transp_1","s":"J-only","v":0.3},{"f":"BPD_transp_1","s":"J-only","v":0.0},{"f":"BPD_transp_1","s":"J-only","v":-0.3},{"f":"BPD_transp_1","s":"J-only","v":-0.6},{"f":"BPD_transp_1","s":"J-only","v":-0.9},{"f":"BPD_transp_1","s":"J-only","v":-1.2},{"f":"BPD_transp_1","s":"J-only","v":-1.5},{"f":"BPD_transp_1","s":"J-only","v":-1.8},{"f":"BPD_transp_1","s":"J-only","v":-2.1},{"f":"BPD_transp_1","s":"J-only","v":-2.4},{"f":"BPD_transp_1","s":"J-only","v":-2.7},{"f":"BPD_transp_1","s":"J-only","v":-3.0},{"f":"BPD_transp_1","s":"J-only","v":-3.3},{"f":"BPD_transp_1","s":"J-only","v":-3.6},{"f":"BPD_transp_1","s":"J-only","v":-3.9},{"f":"BPD_transp_1","s":"J-only","v":-4.2},{"f":"BPD_transp_1","s":"J-only","v":-4.4},{"f":"BPD_transp_1","s":"J-only","v":-6.6},
{"f":"adh_short","s":"J+K","v":0.6},{"f":"adh_short","s":"J+K","v":0.3},{"f":"adh_short","s":"J+K","v":0.0},{"f":"adh_short","s":"J+K","v":-0.3},{"f":"adh_short","s":"J+K","v":-0.6},{"f":"adh_short","s":"J+K","v":-0.9},{"f":"adh_short","s":"J+K","v":-1.2},{"f":"adh_short","s":"J+K","v":-1.5},{"f":"adh_short","s":"J+K","v":-1.8},{"f":"adh_short","s":"J+K","v":-2.1},{"f":"adh_short","s":"J+K","v":-2.4},{"f":"adh_short","s":"J+K","v":-2.7},{"f":"adh_short","s":"J+K","v":-3.0},{"f":"adh_short","s":"J+K","v":-3.3},{"f":"adh_short","s":"J+K","v":-3.6},{"f":"adh_short","s":"J+K","v":-3.9},{"f":"adh_short","s":"J+K","v":-4.2},{"f":"adh_short","s":"J+K","v":-4.5},{"f":"adh_short","s":"J+K","v":-4.8},{"f":"adh_short","s":"J+K","v":-5.0},
{"f":"adh_short","s":"J-only","v":0.0},{"f":"adh_short","s":"J-only","v":-1.4},{"f":"adh_short","s":"J-only","v":-1.7},{"f":"adh_short","s":"J-only","v":-2.0},{"f":"adh_short","s":"J-only","v":-2.3},{"f":"adh_short","s":"J-only","v":-2.6},{"f":"adh_short","s":"J-only","v":-2.9},{"f":"adh_short","s":"J-only","v":-3.2},{"f":"adh_short","s":"J-only","v":-3.5},{"f":"adh_short","s":"J-only","v":-3.8},{"f":"adh_short","s":"J-only","v":-4.1},
{"f":"LysR_substrate","s":"J+K","v":16.7},{"f":"LysR_substrate","s":"J+K","v":10.4},{"f":"LysR_substrate","s":"J+K","v":5.0},{"f":"LysR_substrate","s":"J+K","v":4.2},{"f":"LysR_substrate","s":"J+K","v":3.2},{"f":"LysR_substrate","s":"J+K","v":1.4},{"f":"LysR_substrate","s":"J+K","v":0.9},{"f":"LysR_substrate","s":"J+K","v":0.6},{"f":"LysR_substrate","s":"J+K","v":0.3},{"f":"LysR_substrate","s":"J+K","v":0.0},{"f":"LysR_substrate","s":"J+K","v":-0.3},{"f":"LysR_substrate","s":"J+K","v":-0.6},{"f":"LysR_substrate","s":"J+K","v":-0.9},{"f":"LysR_substrate","s":"J+K","v":-1.2},{"f":"LysR_substrate","s":"J+K","v":-1.5},{"f":"LysR_substrate","s":"J+K","v":-1.8},{"f":"LysR_substrate","s":"J+K","v":-2.1},{"f":"LysR_substrate","s":"J+K","v":-2.4},{"f":"LysR_substrate","s":"J+K","v":-2.7},{"f":"LysR_substrate","s":"J+K","v":-3.0},{"f":"LysR_substrate","s":"J+K","v":-3.3},{"f":"LysR_substrate","s":"J+K","v":-3.6},{"f":"LysR_substrate","s":"J+K","v":-3.9},{"f":"LysR_substrate","s":"J+K","v":-4.2},{"f":"LysR_substrate","s":"J+K","v":-4.5},{"f":"LysR_substrate","s":"J+K","v":-4.8},{"f":"LysR_substrate","s":"J+K","v":-5.1},{"f":"LysR_substrate","s":"J+K","v":-5.4},{"f":"LysR_substrate","s":"J+K","v":-5.7},{"f":"LysR_substrate","s":"J+K","v":-6.0},{"f":"LysR_substrate","s":"J+K","v":-6.3},{"f":"LysR_substrate","s":"J+K","v":-6.6},{"f":"LysR_substrate","s":"J+K","v":-6.9},{"f":"LysR_substrate","s":"J+K","v":-7.3},{"f":"LysR_substrate","s":"J+K","v":-7.9},{"f":"LysR_substrate","s":"J+K","v":-8.7},
{"f":"LysR_substrate","s":"J-only","v":-0.2},{"f":"LysR_substrate","s":"J-only","v":-0.5},{"f":"LysR_substrate","s":"J-only","v":-0.8},{"f":"LysR_substrate","s":"J-only","v":-1.1},{"f":"LysR_substrate","s":"J-only","v":-1.4},{"f":"LysR_substrate","s":"J-only","v":-1.7},{"f":"LysR_substrate","s":"J-only","v":-2.0},{"f":"LysR_substrate","s":"J-only","v":-2.3},{"f":"LysR_substrate","s":"J-only","v":-2.6},{"f":"LysR_substrate","s":"J-only","v":-2.9},{"f":"LysR_substrate","s":"J-only","v":-3.2},{"f":"LysR_substrate","s":"J-only","v":-3.5},{"f":"LysR_substrate","s":"J-only","v":-3.8},{"f":"LysR_substrate","s":"J-only","v":-4.1},{"f":"LysR_substrate","s":"J-only","v":-4.3},
{"f":"Pyr_redox_2","s":"J+K","v":2.7},{"f":"Pyr_redox_2","s":"J+K","v":2.1},{"f":"Pyr_redox_2","s":"J+K","v":-1.1},{"f":"Pyr_redox_2","s":"J+K","v":-1.7},{"f":"Pyr_redox_2","s":"J+K","v":-2.0},{"f":"Pyr_redox_2","s":"J+K","v":-2.3},{"f":"Pyr_redox_2","s":"J+K","v":-2.6},{"f":"Pyr_redox_2","s":"J+K","v":-2.9},{"f":"Pyr_redox_2","s":"J+K","v":-3.2},{"f":"Pyr_redox_2","s":"J+K","v":-3.5},{"f":"Pyr_redox_2","s":"J+K","v":-3.8},{"f":"Pyr_redox_2","s":"J+K","v":-4.1},{"f":"Pyr_redox_2","s":"J+K","v":-4.4},{"f":"Pyr_redox_2","s":"J+K","v":-4.7},{"f":"Pyr_redox_2","s":"J+K","v":-5.0},{"f":"Pyr_redox_2","s":"J+K","v":-5.3},{"f":"Pyr_redox_2","s":"J+K","v":-5.6},{"f":"Pyr_redox_2","s":"J+K","v":-5.9},{"f":"Pyr_redox_2","s":"J+K","v":-6.2},{"f":"Pyr_redox_2","s":"J+K","v":-6.6},
{"f":"Pyr_redox_2","s":"J-only","v":-2.1},{"f":"Pyr_redox_2","s":"J-only","v":-2.4},{"f":"Pyr_redox_2","s":"J-only","v":-2.7},{"f":"Pyr_redox_2","s":"J-only","v":-3.0},{"f":"Pyr_redox_2","s":"J-only","v":-3.3},{"f":"Pyr_redox_2","s":"J-only","v":-3.6},{"f":"Pyr_redox_2","s":"J-only","v":-3.9},{"f":"Pyr_redox_2","s":"J-only","v":-4.2},{"f":"Pyr_redox_2","s":"J-only","v":-4.5},{"f":"Pyr_redox_2","s":"J-only","v":-4.7},{"f":"Pyr_redox_2","s":"J-only","v":-5.3}
]
},
"resolve": {"scale": {"x": "independent", "y": "independent", "color": "independent", "xOffset": "independent"}, "legend": {"color": "independent"}},
"spacing": 32,
"vconcat": [
{
 "title": {"text": "A", "offset": -1.5},
 "width": 649, "height": 197,
 "layer": [
  {"data": {"values": [{}]}, "mark": {"type": "rule", "color": "#7878f0", "strokeWidth": 1}, "encoding": {"y": {"datum": 0, "type": "quantitative", "axis": null}}},
  {"data": {"name": "pts"}, "mark": {"type": "point", "filled": false, "size": 20, "strokeWidth": 0.8},
   "encoding": {
    "x": {"field": "f", "type": "nominal", "scale": {"domain": ["Hexapep","WD40","Pentapeptide_2","TetR_N","CBS","HTH_1","HisKA","HTH_18","Helicase_C","HATPase_c","Response_reg","ABC_tran","Radical_SAM","BPD_transp_1","adh_short","LysR_substrate","Pyr_redox_2"], "paddingInner": 0, "paddingOuter": 0.39}, "axis": {"labels": false, "title": null, "orient": "bottom"}},
    "xOffset": {"field": "s", "scale": {"domain": ["J+K","J-only"], "paddingInner": 0, "paddingOuter": 1.2, "align": 0.457}},
    "y": {"field": "v", "type": "quantitative", "scale": {"domain": [-10, 25], "nice": false, "zero": false}, "axis": {"values": [-10,-5,0,5,10,15,20,25], "title": "ΔΩ(Aᵢ)", "labelPadding": 9, "titlePadding": 16.5, "labelExpr": "replace(datum.label, '−', '-')"}},
    "color": {"field": "s", "type": "nominal", "scale": {"domain": ["J+K","J-only"], "range": ["#ee44ee","#3cc83c"]}, "legend": {"title": null, "orient": "none", "legendX": 616, "legendY": 5, "labelOffset": -26, "symbolType": "circle", "symbolSize": 20, "symbolStrokeWidth": 0.8}}
   }},
  {"data": {"name": "pts"}, "mark": {"type": "point", "opacity": 0},
   "encoding": {
    "x": {"field": "f", "type": "nominal", "axis": {"labels": false, "title": null, "orient": "top"}},
    "y": {"field": "v", "type": "quantitative", "axis": {"values": [-10,-5,0,5,10,15,20,25], "labels": false, "title": null, "orient": "right"}}
   }}
 ],
 "resolve": {"axis": {"x": "independent", "y": "independent"}}
},
{
 "title": {"text": "B", "offset": 10},
 "width": 649, "height": 202,
 "data": {"name": "bars"},
 "layer": [
  {"mark": {"type": "bar"},
   "encoding": {
    "x": {"field": "f", "type": "nominal", "scale": {"domain": ["Hexapep","WD40","Pentapeptide_2","TetR_N","CBS","HTH_1","HisKA","HTH_18","Helicase_C","HATPase_c","Response_reg","ABC_tran","Radical_SAM","BPD_transp_1","adh_short","LysR_substrate","Pyr_redox_2"], "paddingInner": 0, "paddingOuter": 0.39}, "axis": {"labels": false, "title": null, "orient": "bottom"}},
    "xOffset": {"field": "s", "scale": {"domain": ["J+K","J-only"], "paddingInner": 0.1, "paddingOuter": 2.37}},
    "y": {"field": "skew", "type": "quantitative", "scale": {"domain": [-1, 5], "nice": false}, "axis": {"values": [-1,0,1,2,3,4,5], "title": "Skewness of ΔG", "labelPadding": 10, "titlePadding": 8, "labelExpr": "replace(datum.label, '−', '-')"}},
    "color": {"field": "s", "type": "nominal", "scale": {"domain": ["J+K","J-only"], "range": ["#ff00ff","#1ec51e"]}, "legend": {"title": null, "orient": "none", "legendX": 611, "legendY": 3, "labelOffset": -14.3, "symbolType": "M-1,-0.5H5V0.5H-1Z", "symbolSize": 87, "symbolStrokeWidth": 0}}
   }},
  {"mark": {"type": "bar", "opacity": 0},
   "encoding": {
    "x": {"field": "f", "type": "nominal", "axis": {"labels": false, "title": null, "orient": "top"}},
    "y": {"field": "skew", "type": "quantitative", "axis": {"values": [-1,0,1,2,3,4,5], "labels": false, "title": null, "orient": "right"}}
   }}
 ],
 "resolve": {"axis": {"x": "independent", "y": "independent"}}
},
{
 "title": {"text": "C", "offset": -0.5},
 "width": 649, "height": 202,
 "data": {"name": "bars"},
 "layer": [
  {"mark": {"type": "bar"},
   "encoding": {
    "x": {"field": "f", "type": "nominal", "scale": {"domain": ["Hexapep","WD40","Pentapeptide_2","TetR_N","CBS","HTH_1","HisKA","HTH_18","Helicase_C","HATPase_c","Response_reg","ABC_tran","Radical_SAM","BPD_transp_1","adh_short","LysR_substrate","Pyr_redox_2"], "paddingInner": 0, "paddingOuter": 0.39}, "axis": {"title": "Pfam family", "orient": "bottom", "labelAngle": -90, "labelPadding": 12, "titlePadding": 2}},
    "xOffset": {"field": "s", "scale": {"domain": ["J+K","J-only"], "paddingInner": 0.1, "paddingOuter": 2.37}},
    "y": {"field": "corr", "type": "quantitative", "scale": {"domain": [-0.8, 0.6], "nice": false}, "axis": {"values": [-0.8,-0.6,-0.4,-0.2,0,0.2,0.4,0.6], "title": "Correlation between site entropy and ΔG", "labelPadding": 12, "titlePadding": 7.5, "labelExpr": "replace(format(datum.value, '.1~f'), '−', '-')"}},
    "color": {"field": "s", "type": "nominal", "scale": {"domain": ["J+K","J-only"], "range": ["#ff00ff","#1ec51e"]}, "legend": {"title": null, "orient": "none", "legendX": 611, "legendY": 6.5, "rowPadding": -2, "labelOffset": -14.3, "symbolType": "M-1,-0.5H5V0.5H-1Z", "symbolSize": 87, "symbolStrokeWidth": 0}}
   }},
  {"mark": {"type": "bar", "opacity": 0},
   "encoding": {
    "x": {"field": "f", "type": "nominal", "axis": {"labels": false, "title": null, "orient": "top"}},
    "y": {"field": "corr", "type": "quantitative", "axis": {"values": [-0.8,-0.6,-0.4,-0.2,0,0.2,0.4,0.6], "labels": false, "title": null, "orient": "right"}}
   }}
 ],
 "resolve": {"axis": {"x": "independent", "y": "independent"}}
}
]
}
